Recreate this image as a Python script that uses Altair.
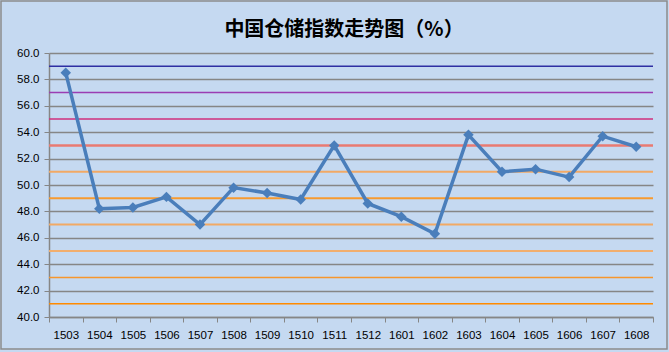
import altair as alt
import pandas as pd

title_text = "中国仓储指数走势图（%）"
months = ["1503", "1504", "1505", "1506", "1507", "1508", "1509", "1510", "1511",
          "1512", "1601", "1602", "1603", "1604", "1605", "1606", "1607", "1608"]
index_values = [58.5, 48.2, 48.3, 49.1, 47.0, 49.8, 49.4, 48.9, 53.0,
                48.6, 47.6, 46.3, 53.8, 51.0, 51.2, 50.6, 53.7, 52.9]
y_ticks = [40, 42, 44, 46, 48, 50, 52, 54, 56, 58, 60]
ref_levels = [59, 57, 55, 53, 51, 49, 47, 45, 43, 41]
ref_colors = ["#2f2fa3", "#9b3db3", "#cf2f7d", "#e97a72", "#f2a965",
              "#f79a2f", "#f2a965", "#f2ae6e", "#f7962d", "#ff8a00"]
ref_widths = [1.5, 1.5, 1.5, 2.5, 2, 2, 2, 2, 1.5, 1.5]

df = pd.DataFrame({"month": months, "value": index_values})
ref = pd.DataFrame({"level": ref_levels, "color": ref_colors, "w": ref_widths})

line_color = "#4a7ebb"

x_enc = alt.X("month:N", sort=months,
              scale=alt.Scale(paddingInner=0, paddingOuter=0),
              axis=alt.Axis(title=None, labelAngle=0, tickBand="extent",
                            labelPadding=7, tickSize=5, grid=False,
                            labelFontSize=11.5))
y_scale = alt.Scale(domain=[40, 60], nice=False, zero=False)
y_axis = alt.Axis(title=None, values=y_ticks, format=".1f", tickSize=5,
                  labelPadding=5, grid=True, labelFontSize=11.5,
                  labelOverlap=False)

rules = alt.Chart(ref).mark_rule().encode(
    y=alt.Y("level:Q", scale=y_scale, axis=y_axis),
    color=alt.Color("color:N", scale=None),
    strokeWidth=alt.StrokeWidth("w:Q", scale=None),
)

line = alt.Chart(df).mark_line(
    color=line_color, strokeWidth=3.5,
    point=alt.OverlayMarkDef(shape="diamond", size=110, filled=True,
                             color=line_color),
).encode(
    x=x_enc,
    y=alt.Y("value:Q", scale=y_scale, axis=y_axis),
)

deco = pd.DataFrame({"t": [title_text]})
border = alt.Chart(deco).mark_rect(
    filled=False, stroke="#8c8c8c", strokeWidth=1.5
).encode(
    x=alt.value(-48), x2=alt.value(618), y=alt.value(-52), y2=alt.value(296)
)
title = alt.Chart(deco).mark_text(
    font="Noto Sans CJK SC", fontSize=20, fontWeight="bold", color="#000000",
    align="center", baseline="middle"
).encode(x=alt.value(295), y=alt.value(-23), text="t:N")

chart = alt.layer(rules, line, border, title).properties(
    width=604, height=264,
    autosize=alt.AutoSizeParams(type="none"),
    padding={"left": 49, "top": 53, "right": 16, "bottom": 35},
).configure(
    background="#c5d9f1",
).configure_view(
    stroke=None,
).configure_axis(
    domainColor="#868686", tickColor="#868686", gridColor="#868686",
    labelColor="#000000", labelFont="Liberation Sans", domainWidth=1.5,
    gridWidth=1.5,
)

chart.save("out.html", embed_options={"renderer": "svg", "actions": False})
